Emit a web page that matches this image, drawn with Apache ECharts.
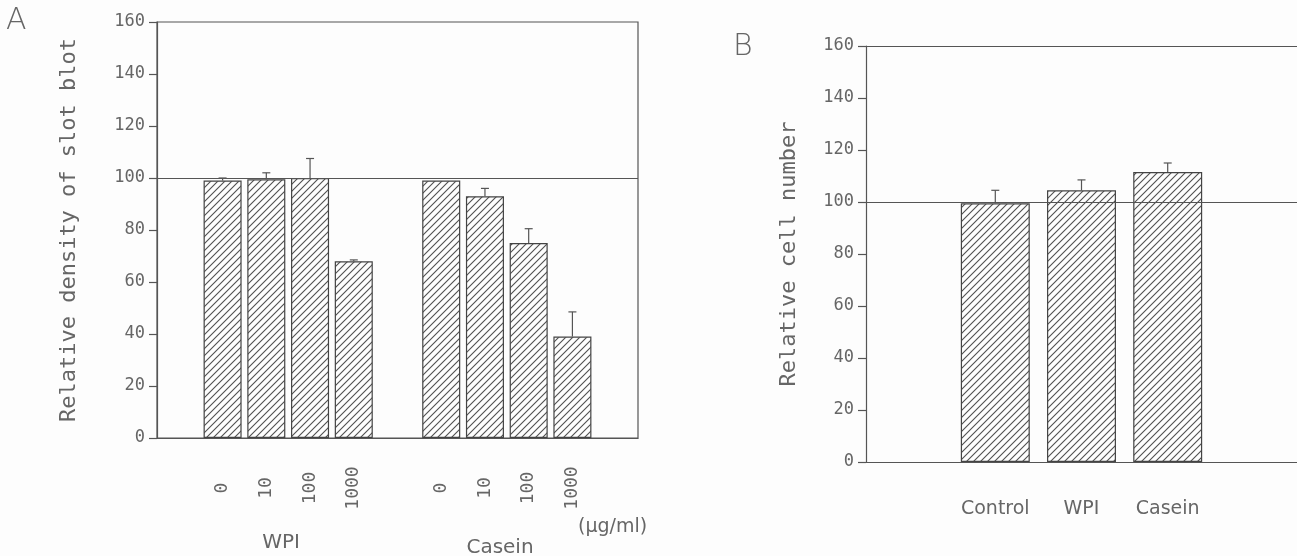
<!DOCTYPE html>
<html>
<head>
<meta charset="utf-8">
<script src="https://cdn.jsdelivr.net/npm/echarts@6/dist/echarts.min.js"></script>
<style>
  html, body { margin: 0; padding: 0; background: #fdfdfd; }
  #chart { width: 1297px; height: 556px; }
</style>
</head>
<body>
<div id="chart"></div>
<script>
// panel A: slot blot density, doses in ug/ml
var doseLabels = ['0', '10', '100', '1000']
var wpiDensity = [99, 99.5, 100, 68]
var wpiDensityErr = [1, 2.5, 7.5, 0.5]
var caseinDensity = [99, 93, 75, 39]
var caseinDensityErr = [0, 3, 5.5, 9.5]

// panel B: cell number
var cellGroups = ['Control', 'WPI', 'Casein']
var cellNumber = [99.5, 104.5, 111.5]
var cellNumberErr = [5, 4, 3.5]

var refLevel = 100

var ink = '#555'
var textInk = '#666'

// hatch pattern "/"
function makeHatch() {
    var c = document.createElement('canvas')
    var s = 7
    c.width = s
    c.height = s
    var ctx = c.getContext('2d')
    ctx.fillStyle = '#fdfdfd'
    ctx.fillRect(0, 0, s, s)
    ctx.strokeStyle = '#505050'
    ctx.lineWidth = 1.1
    ctx.beginPath()
    ctx.moveTo(-1, s + 1); ctx.lineTo(s + 1, -1)
    ctx.moveTo(-1, 1); ctx.lineTo(1, -1)
    ctx.moveTo(s - 1, s + 1); ctx.lineTo(s + 1, s - 1)
    ctx.stroke()
    return c
}
var hatch = { image: makeHatch(), repeat: 'repeat' }

// categories with blank slots to space the groups
var catsA = [''].concat(doseLabels, [''], doseLabels, [''])
var barsA = ['-'].concat(wpiDensity, ['-'], caseinDensity, ['-'])
var errA = []
wpiDensity.forEach(function (v, i) { errA.push([i + 1, v, wpiDensityErr[i]]) })
caseinDensity.forEach(function (v, i) { errA.push([i + 6, v, caseinDensityErr[i]]) })

var catsB = [''].concat(cellGroups, [''])
var barsB = ['-'].concat(cellNumber, ['-'])
var errB = cellNumber.map(function (v, i) { return [i + 1, v, cellNumberErr[i]] })

function renderErr(params, api) {
    var x = api.value(0), v = api.value(1), e = api.value(2)
    if (!e) return
    var p0 = api.coord([x, v])
    var p1 = api.coord([x, v + e])
    var st = { stroke: ink, lineWidth: 1.2 }
    return {
        type: 'group',
        children: [
            { type: 'line', shape: { x1: p0[0], y1: p0[1], x2: p1[0], y2: p1[1] }, style: st },
            { type: 'line', shape: { x1: p1[0] - 4, y1: p1[1], x2: p1[0] + 4, y2: p1[1] }, style: st }
        ]
    }
}

function valueAxis(gridIndex, name, gap) {
    return {
        type: 'value',
        gridIndex: gridIndex,
        min: 0,
        max: 160,
        interval: 20,
        name: name,
        nameLocation: 'middle',
        nameGap: gap,
        nameTextStyle: { fontFamily: 'DejaVu Sans Mono', fontSize: 22, color: textInk },
        axisLine: { show: true, lineStyle: { color: ink, width: 1.2 } },
        axisTick: { show: true, inside: false, length: 8, lineStyle: { color: ink, width: 1.2 } },
        axisLabel: { margin: 12, fontFamily: 'DejaVu Sans Mono', fontSize: 17, color: textInk },
        splitLine: { show: false }
    }
}

var refLine = {
    silent: true,
    symbol: 'none',
    label: { show: false },
    lineStyle: { color: ink, width: 1.2, type: 'solid' },
    data: [{ yAxis: refLevel }]
}

var chart = echarts.init(document.getElementById('chart'), null, { renderer: 'canvas' })
chart.setOption({
    animation: false,
    backgroundColor: '#fdfdfd',
    grid: [
        { left: 157, top: 22, width: 481, height: 416, show: true, borderColor: ink, borderWidth: 1.2, backgroundColor: 'transparent' },
        // no right border: the frame runs off the page in the scan
        { left: 866, top: 46, width: 431, height: 416 }
    ],
    xAxis: [
        {
            type: 'category',
            gridIndex: 0,
            data: catsA,
            axisLine: { lineStyle: { color: ink, width: 1.2 } },
            axisTick: { inside: true, length: 6, lineStyle: { color: ink } },
            axisLabel: {
                interval: 0, rotate: 90, margin: 50, align: 'center', verticalAlign: 'middle',
                fontFamily: 'DejaVu Sans Mono', fontSize: 18, color: textInk
            }
        },
        {
            type: 'category',
            gridIndex: 1,
            data: catsB,
            axisLine: { lineStyle: { color: ink, width: 1.2 } },
            axisTick: { inside: true, length: 7, lineStyle: { color: ink } },
            axisLabel: { interval: 0, margin: 38, fontFamily: 'DejaVu Sans', fontSize: 19, color: textInk }
        },
        {
            // top frame line of panel B
            type: 'category',
            gridIndex: 1,
            position: 'top',
            data: catsB,
            axisLine: { lineStyle: { color: ink, width: 1.2 } },
            axisTick: { show: false },
            axisLabel: { show: false }
        }
    ],
    yAxis: [
        valueAxis(0, 'Relative density of slot blot', 77),
        valueAxis(1, 'Relative cell number', 66)
    ],
    series: [
        {
            type: 'bar', xAxisIndex: 0, yAxisIndex: 0, data: barsA,
            barCategoryGap: '13%',
            itemStyle: { color: hatch, borderColor: '#444', borderWidth: 1.2 },
            markLine: refLine
        },
        { type: 'custom', xAxisIndex: 0, yAxisIndex: 0, data: errA, renderItem: renderErr, z: 5 },
        {
            type: 'bar', xAxisIndex: 1, yAxisIndex: 1, data: barsB,
            barCategoryGap: '20%',
            itemStyle: { color: hatch, borderColor: '#444', borderWidth: 1.2 },
            markLine: refLine
        },
        { type: 'custom', xAxisIndex: 1, yAxisIndex: 1, data: errB, renderItem: renderErr, z: 5 }
    ],
    graphic: [
        { type: 'text', left: 6, top: 6, style: { text: 'A', font: '300 30px "DejaVu Sans"', fill: textInk } },
        { type: 'text', left: 733, top: 32, style: { text: 'B', font: '300 30px "DejaVu Sans"', fill: textInk } },
        { type: 'text', x: 281, y: 543, style: { text: 'WPI', font: '20px "DejaVu Sans"', fill: textInk, textAlign: 'center', textVerticalAlign: 'middle' } },
        { type: 'text', x: 500, y: 548, style: { text: 'Casein', font: '20px "DejaVu Sans"', fill: textInk, textAlign: 'center', textVerticalAlign: 'middle' } },
        { type: 'text', x: 578, y: 527, style: { text: '(\u03bcg/ml)', font: '19px "DejaVu Sans"', fill: textInk, textAlign: 'left', textVerticalAlign: 'middle' } }
    ]
})
</script>
</body>
</html>
